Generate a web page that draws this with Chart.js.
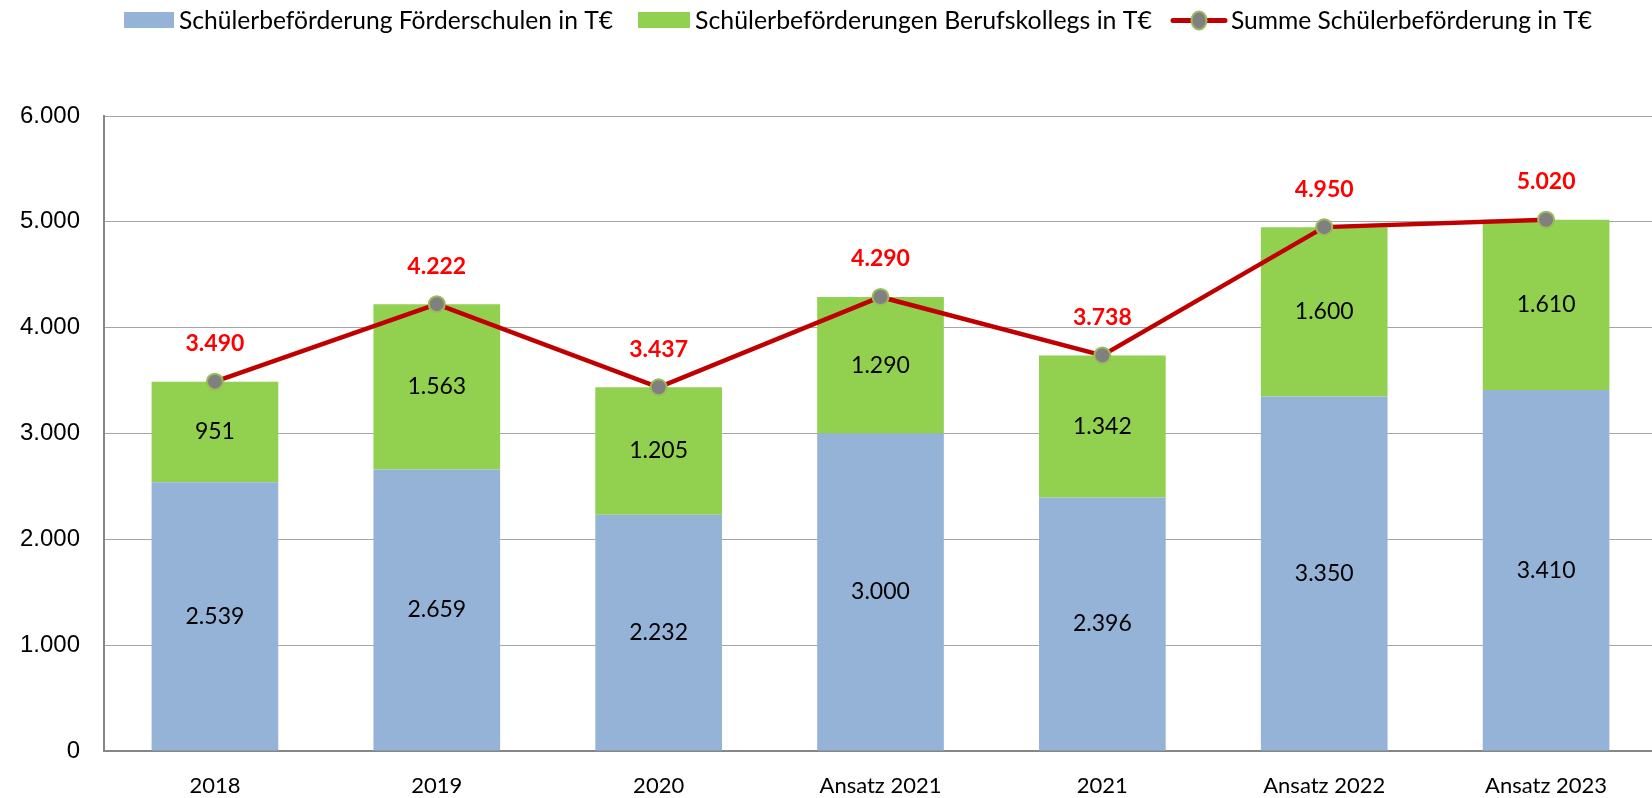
<!DOCTYPE html>
<html>
<head>
<meta charset="utf-8">
<script src="https://cdn.jsdelivr.net/npm/chart.js@4"></script>
<style>
html,body{margin:0;padding:0;background:#fff;overflow:hidden;}
#wrap{width:1652px;height:798px;position:relative;overflow:hidden;}
</style>
</head>
<body>
<div id="wrap"><canvas id="c" width="1667" height="798"></canvas></div>
<script>
const categories = ['2018', '2019', '2020', 'Ansatz 2021', '2021', 'Ansatz 2022', 'Ansatz 2023'];
const foerderschulen = [2539, 2659, 2232, 3000, 2396, 3350, 3410];
const berufskollegs = [951, 1563, 1205, 1290, 1342, 1600, 1610];
const summe = [3490, 4222, 3437, 4290, 3738, 4950, 5020];
const yTicks = [0, 1000, 2000, 3000, 4000, 5000, 6000];
const seriesNames = ['Schülerbeförderung Förderschulen in T€', 'Schülerbeförderungen Berufskollegs in T€', 'Summe Schülerbeförderung in T€'];

const LBL_FONT = 'Lato, "Open Sans", sans-serif';
function fmt(v){ return String(Math.round(v)).replace(/\B(?=(\d{3})+(?!\d))/g, '.'); }

const labelPlugin = {
  id: 'labels',
  afterDatasetsDraw(chart){
    const ctx = chart.ctx;
    ctx.save();
    ctx.textAlign = 'center';
    ctx.textBaseline = 'middle';
    [0,1].forEach(di => {
      const meta = chart.getDatasetMeta(di);
      ctx.font = '23px ' + LBL_FONT;
      ctx.fillStyle = '#000';
      meta.data.forEach((el, i) => {
        const cy = (el.y + el.base) / 2;
        ctx.fillText(fmt(chart.data.datasets[di].data[i]), el.x, cy);
      });
    });
    const lm = chart.getDatasetMeta(2);
    ctx.font = 'bold 23px ' + LBL_FONT;
    ctx.fillStyle = '#FF0000';
    lm.data.forEach((el, i) => {
      ctx.fillText(fmt(summe[i]), el.x, el.y - 38);
    });
    ctx.restore();
  }
};

const legendPlugin = {
  id: 'customLegend',
  afterDraw(chart){
    const ctx = chart.ctx;
    ctx.save();
    ctx.font = '25px ' + LBL_FONT;
    ctx.textBaseline = 'middle';
    ctx.textAlign = 'left';
    const cy = 20;
    const items = [
      { box: 124, boxW: 50, tx: 179, tw: 434 },
      { box: 638, boxW: 52, tx: 695, tw: 457 },
      { box: 1171, boxW: 56, tx: 1231, tw: 361 }
    ];
    const ds = chart.data.datasets;
    seriesNames.forEach((n, i) => {
      const it = items[i];
      if (i < 2) {
        ctx.fillStyle = ds[i].backgroundColor;
        ctx.fillRect(it.box, cy - 8, it.boxW, 16);
      } else {
        ctx.strokeStyle = ds[2].borderColor;
        ctx.lineWidth = 5;
        ctx.lineCap = 'round';
        ctx.beginPath(); ctx.moveTo(it.box + 2, cy + 0.5); ctx.lineTo(it.box + it.boxW - 2, cy + 0.5); ctx.stroke();
        ctx.fillStyle = ds[2].pointBackgroundColor;
        ctx.strokeStyle = ds[2].pointBorderColor;
        ctx.lineWidth = 2;
        ctx.beginPath(); ctx.ellipse(it.box + 28, cy + 0.5, 7.5, 9, 0, 0, Math.PI*2); ctx.fill(); ctx.stroke();
      }
      ctx.fillStyle = '#000';
      const w = ctx.measureText(n).width;
      ctx.save();
      ctx.translate(it.tx, cy + 1);
      ctx.scale(it.tw / w, 1);
      ctx.fillText(n, 0, 0);
      ctx.restore();
    });
    ctx.restore();
  }
};

new Chart(document.getElementById('c'), {
  data: {
    labels: categories,
    datasets: [
      { type: 'bar', label: seriesNames[0], data: foerderschulen, backgroundColor: '#95B3D7', stack: 's', order: 2,
        barPercentage: 0.571, categoryPercentage: 1.0 },
      { type: 'bar', label: seriesNames[1], data: berufskollegs, backgroundColor: '#92D050', stack: 's', order: 2,
        barPercentage: 0.571, categoryPercentage: 1.0 },
      { type: 'line', label: seriesNames[2], data: summe, borderColor: '#C00000', borderWidth: 4.5,
        pointBackgroundColor: '#808080', pointBorderColor: '#9BBB59', pointBorderWidth: 2, pointRadius: 8,
        pointHoverRadius: 8, tension: 0, order: 1 }
    ]
  },
  options: {
    responsive: false,
    animation: false,
    events: [],
    layout: { padding: { top: 116, right: 0, left: 0, bottom: 0 } },
    plugins: { legend: { display: false }, tooltip: { enabled: false } },
    scales: {
      x: {
        stacked: true,
        grid: { display: false, drawTicks: false },
        border: { color: '#868686', width: 2 },
        ticks: { color: '#000', font: { family: LBL_FONT, size: 22 }, padding: 22, maxRotation: 0 },
        afterFit(s){ s.height = 47; }
      },
      y: {
        stacked: true,
        min: 0, max: 6000,
        afterBuildTicks(s){ s.ticks = yTicks.map(v => ({ value: v })); },
        grid: { color: '#A6A6A6', lineWidth: 1, drawTicks: false },
        border: { color: '#868686', width: 2 },
        ticks: { color: '#000', font: { family: '"Liberation Sans", Arial, sans-serif', size: 24 }, padding: 24,
          callback: v => fmt(v) },
        afterFit(s){ s.width = 104; }
      }
    }
  },
  plugins: [labelPlugin, legendPlugin]
});
</script>
</body>
</html>
